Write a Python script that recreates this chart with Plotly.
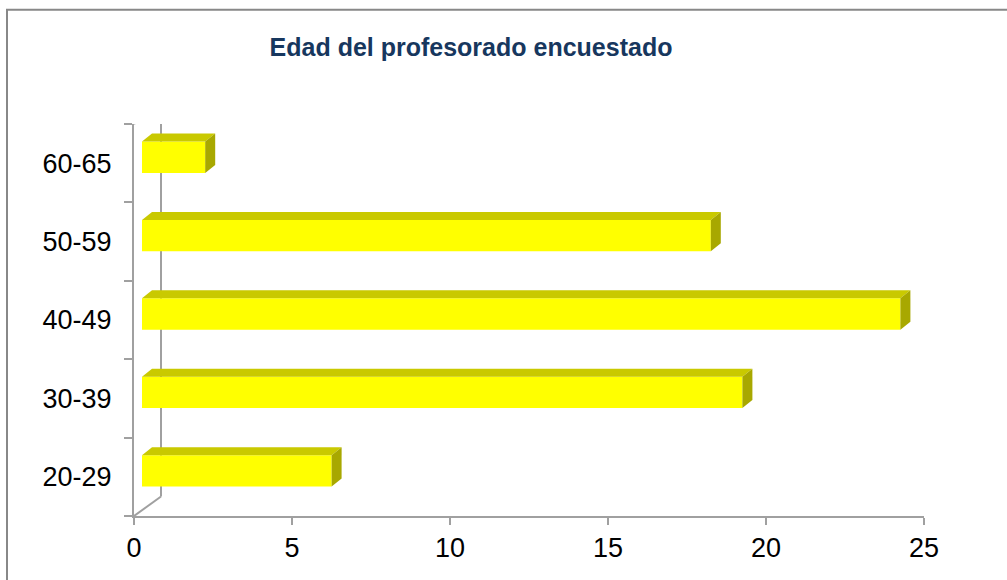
import plotly.graph_objects as go

# ---- data ----
categories = ["20-29", "30-39", "40-49", "50-59", "60-65"]
values = [6, 19, 24, 18, 2]
x_ticks = [0, 5, 10, 15, 20, 25]
title_text = "Edad del profesorado encuestado"

# ---- 3D projection constants (style) ----
PX_PER_UNIT = 790 / 25.0      # value axis scale (pixels per unit)
PX_PER_CAT = 392.5 / 5.0      # category axis scale (pixels per category)
FRONT_DX = 8 / PX_PER_UNIT    # bar front plane offset (right)
FRONT_DY = 6 / PX_PER_CAT     # bar front plane offset (up)
DEPTH_DX = 10 / PX_PER_UNIT   # bar depth (right)
DEPTH_DY = 8 / PX_PER_CAT     # bar depth (up)
WALL_DX = 27 / PX_PER_UNIT    # back wall offset
WALL_DY = 19.5 / PX_PER_CAT
BAR_W = 0.4

FRONT = "#FFFF00"
TOP = "#C9C900"
SIDE = "#A8A800"
AXIS = "#A0A0A0"
FONT = "Arial, Liberation Sans, sans-serif"

fig = go.Figure()

fig.add_trace(go.Bar(
    y=categories, x=values, orientation="h",
    base=FRONT_DX, width=BAR_W, offset=-BAR_W / 2 + FRONT_DY,
    marker=dict(color=FRONT, line=dict(width=0)),
    hoverinfo="skip", showlegend=False,
))

shapes = []
n = len(categories)
# back wall lines
shapes.append(dict(type="line", xref="x", yref="y", x0=WALL_DX, x1=WALL_DX,
                   y0=-0.5 + WALL_DY, y1=n - 0.5 + WALL_DY,
                   line=dict(color=AXIS, width=2), layer="below"))
shapes.append(dict(type="line", xref="x", yref="y", x0=0, x1=WALL_DX,
                   y0=n - 0.5, y1=n - 0.5 + WALL_DY,
                   line=dict(color=AXIS, width=2), layer="below"))
shapes.append(dict(type="line", xref="x", yref="y", x0=0, x1=WALL_DX,
                   y0=-0.5, y1=-0.5 + WALL_DY,
                   line=dict(color=AXIS, width=2), layer="below"))

# bar top and side faces
for i, v in enumerate(values):
    yc = i + FRONT_DY
    yt = yc + BAR_W / 2
    yb = yc - BAR_W / 2
    x0 = FRONT_DX
    x1 = FRONT_DX + v
    top = (f"M {x0},{yt} L {x1},{yt} L {x1 + DEPTH_DX},{yt + DEPTH_DY} "
           f"L {x0 + DEPTH_DX},{yt + DEPTH_DY} Z")
    side = (f"M {x1},{yb} L {x1 + DEPTH_DX},{yb + DEPTH_DY} "
            f"L {x1 + DEPTH_DX},{yt + DEPTH_DY} L {x1},{yt} Z")
    shapes.append(dict(type="path", xref="x", yref="y", path=top,
                       fillcolor=TOP, line=dict(width=0), layer="above"))
    shapes.append(dict(type="path", xref="x", yref="y", path=side,
                       fillcolor=SIDE, line=dict(width=0), layer="above"))

# chart border
shapes.append(dict(type="rect", xref="paper", yref="paper",
                   x0=(7 - 134) / 790, x1=1.2, y0=-0.3, y1=(516 - 9) / 392.5,
                   line=dict(color="#888888", width=2), fillcolor="rgba(0,0,0,0)",
                   layer="above"))

fig.update_layout(
    width=1007, height=580,
    margin=dict(l=134, r=83, t=124, b=64, autoexpand=False),
    paper_bgcolor="white", plot_bgcolor="white",
    bargap=0.6,
    shapes=shapes,
    title=dict(text=f"<b>{title_text}</b>", x=(471 - 134) / 790, xref="paper",
               xanchor="center", y=1 - 47 / 580, yanchor="middle",
               automargin=False,
               font=dict(family=FONT, size=25, color="#17375E")),
    xaxis=dict(range=[0, 25], tickvals=x_ticks, ticks="outside", ticklen=7,
               tickwidth=2, tickcolor=AXIS, showline=True, linecolor=AXIS,
               linewidth=2, showgrid=False, zeroline=False, automargin=False,
               tickfont=dict(family=FONT, size=27, color="black")),
    yaxis=dict(type="category", categoryorder="array", categoryarray=categories,
               range=[-0.5, n - 0.5], tickson="boundaries", ticks="outside",
               ticklen=8, tickwidth=2, tickcolor=AXIS, showline=True,
               linecolor=AXIS, linewidth=2, showgrid=False, zeroline=False,
               automargin=False, ticklabelstandoff=15,
               tickfont=dict(family=FONT, size=27, color="black")),
    font=dict(family=FONT),
)

fig.write_html("out.html",
               config={"displayModeBar": False},
               post_script="document.body.style.margin='0';document.body.style.overflow='hidden';")
